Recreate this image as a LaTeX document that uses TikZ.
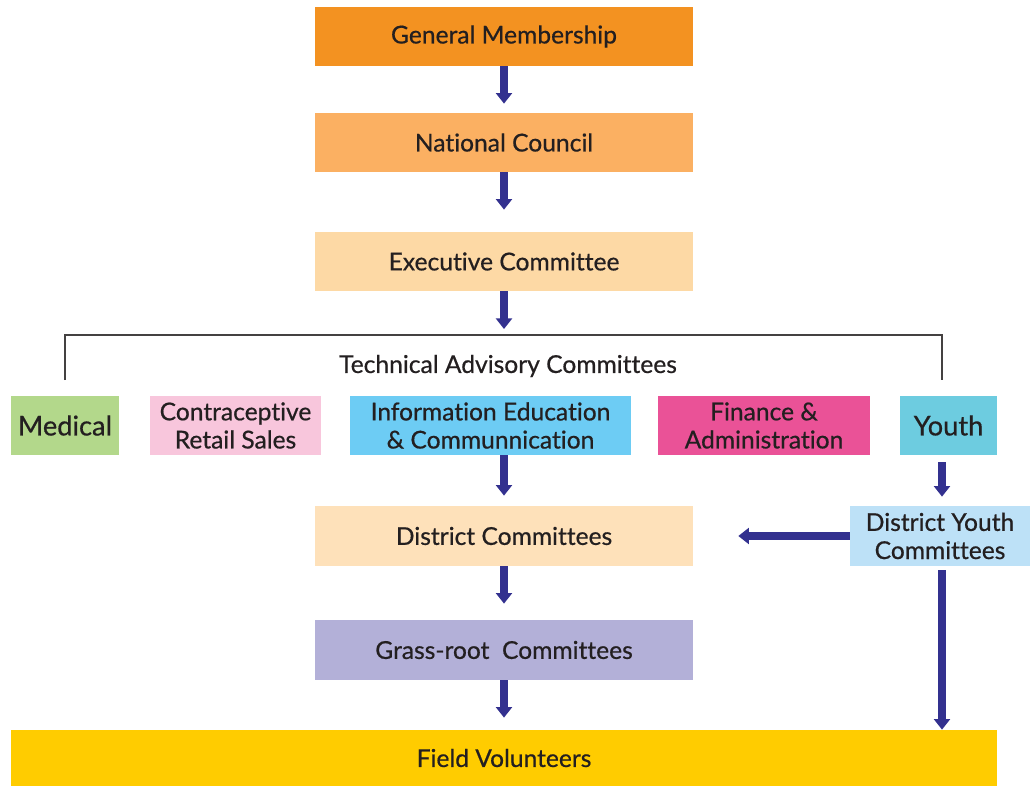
\documentclass[tikz,border=0pt]{standalone}
\usepackage{fontspec}
\setmainfont{Lato}[Ligatures=NoCommon,FakeBold=0.6]
\usetikzlibrary{arrows.meta}
\definecolor{cgm}{HTML}{F39221}
\definecolor{cnc}{HTML}{FBB062}
\definecolor{cec}{HTML}{FDD9A5}
\definecolor{cmed}{HTML}{B3D88B}
\definecolor{ccrs}{HTML}{F8C6DC}
\definecolor{ciec}{HTML}{6DCCF4}
\definecolor{cfin}{HTML}{EA5297}
\definecolor{cyth}{HTML}{6DCCE0}
\definecolor{cdc}{HTML}{FEE1BA}
\definecolor{cdyc}{HTML}{BDE1F7}
\definecolor{cgr}{HTML}{B3B0D8}
\definecolor{cfv}{HTML}{FFCC00}
\definecolor{carrow}{HTML}{33318F}
\definecolor{ctext}{HTML}{231F20}
\begin{document}
\begin{tikzpicture}[x=0.02cm,y=-0.02cm,
  box/.style={rectangle,inner sep=0pt,align=center,text=ctext,
    font=\fontsize{14}{16}\selectfont},
  flow/.style={carrow,line width=4pt,-{Triangle[width=9pt,length=6pt]}},
  bracket/.style={line width=1.1pt,draw=ctext!85}]
\useasboundingbox (0,0) rectangle (1031,787);
\node[box,fill=cgm,minimum width=7.56cm,minimum height=1.18cm] (gm) at (504,36.5) {General Membership};
\node[box,fill=cnc,minimum width=7.56cm,minimum height=1.18cm] (nc) at (504,142.5) {National Council};
\node[box,fill=cec,minimum width=7.56cm,minimum height=1.18cm] (ec) at (504,261.5) {Executive Committee};
\node[box,fill=cmed,minimum width=2.16cm,minimum height=1.18cm,font=\fontsize{15.5}{17}\selectfont] (med) at (65,425.5) {Medical};
\node[box,fill=ccrs,minimum width=3.42cm,minimum height=1.18cm] (crs) at (235.5,425.5) {Contraceptive\\Retail Sales};
\node[box,fill=ciec,minimum width=5.62cm,minimum height=1.18cm] (iec) at (490.5,425.5) {Information Education\\\& Communnication};
\node[box,fill=cfin,minimum width=4.24cm,minimum height=1.18cm] (fin) at (764,425.5) {Finance \&\\Administration};
\node[box,fill=cyth,minimum width=1.94cm,minimum height=1.18cm,font=\fontsize{15.5}{17}\selectfont] (yth) at (948.5,425.5) {Youth};
\node[box,fill=cdc,minimum width=7.56cm,minimum height=1.2cm] (dc) at (504,536) {District Committees};
\node[box,fill=cdyc,minimum width=3.6cm,minimum height=1.2cm] (dyc) at (940,536) {District Youth\\Committees};
\node[box,fill=cgr,minimum width=7.56cm,minimum height=1.2cm] (gr) at (504,650) {Grass-root\ \ Committees};
\node[box,fill=cfv,minimum width=19.72cm,minimum height=1.12cm] (fv) at (504,758) {Field Volunteers};
\node[box,anchor=center] (tac) at (508,366) {Technical Advisory Committees};
\coordinate (bl) at (65,380);
\coordinate (tl) at (65,335);
\coordinate (tr) at (942,335);
\coordinate (br) at (942,380);
\coordinate (bt) at (504,335);
\draw[bracket] (bl) -- (tl) -- (tr) -- (br);
\draw[flow,shorten >=9*0.02cm] (gm) -- (nc);
\draw[flow,shorten >=22*0.02cm] (nc) -- (ec);
\draw[flow,shorten >=6*0.02cm] (ec) -- (bt);
\draw[flow,shorten >=10*0.02cm] (iec.south -| dc.north) -- (dc.north);
\draw[flow,shorten <=7*0.02cm,shorten >=9*0.02cm] (yth.south -| br) -- (dyc.north -| br);
\draw[flow,shorten >=45*0.02cm] (dyc.west) -- (dc.east);
\draw[flow,shorten >=16*0.02cm] (dc) -- (gr);
\draw[flow,shorten >=12*0.02cm] (gr) -- (fv.north);
\draw[flow,shorten <=4*0.02cm] (dyc.south -| br) -- (fv.north -| br);
\end{tikzpicture}
\end{document}
